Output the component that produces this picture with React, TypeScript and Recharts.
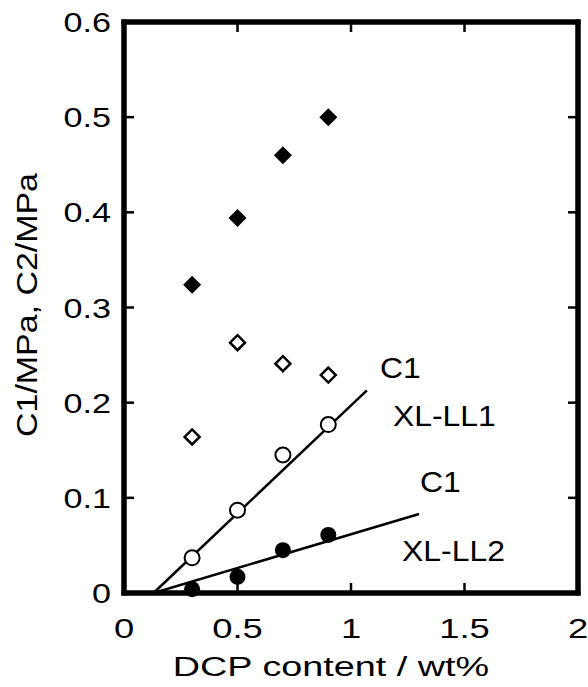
import React from "react";
import { ScatterChart, Scatter, XAxis, YAxis, ReferenceLine, ReferenceArea } from "recharts";

// ---- data ----
const xTicks = [0, 0.5, 1, 1.5, 2];
const yTicks = [0, 0.1, 0.2, 0.3, 0.4, 0.5, 0.6];
const xInnerTicks = [0.5, 1, 1.5];
const yInnerTicks = [0.1, 0.2, 0.3, 0.4, 0.5];
const dcpContent = [0.3, 0.5, 0.7, 0.9];
const filledDiamond = [0.324, 0.394, 0.46, 0.5];
const openDiamond = [0.164, 0.263, 0.241, 0.229];
const openCircle = [0.037, 0.087, 0.145, 0.177];
const filledCircle = [0.004, 0.017, 0.045, 0.061];
const fitLL1 = [
  { x: 0.13, y: 0 },
  { x: 1.07, y: 0.213 },
];
const fitLL2 = [
  { x: 0.13, y: 0 },
  { x: 1.3, y: 0.083 },
];
const annotations = [
  { x: 1.128, y: 0.226, text: "C1" },
  { x: 1.185, y: 0.1755, text: "XL-LL1" },
  { x: 1.304, y: 0.106, text: "C1" },
  { x: 1.225, y: 0.034, text: "XL-LL2" },
];
const xTitle = "DCP content / wt%";
const yTitle = "C1/MPa, C2/MPa";

const X_MIN = 0, X_MAX = 2, Y_MIN = 0, Y_MAX = 0.6;
const frame = [
  { x: X_MIN, y: Y_MIN },
  { x: X_MAX, y: Y_MIN },
  { x: X_MAX, y: Y_MAX },
  { x: X_MIN, y: Y_MAX },
  { x: X_MIN, y: Y_MIN },
];
// inward tick length expressed in axis units (about 10px)
const TICK_DY = 0.0105;
const TICK_DX = 0.044;
// half frame thickness in axis units (about 2.5px)
const HALF_DY = 0.0027;
const HALF_DX = 0.011;

const toPts = (ys: number[]) => dcpContent.map((x, i) => ({ x, y: ys[i] }));

const FONT = "'Liberation Sans', Arial, Helvetica, sans-serif";

const SText = ({ x, y, text, size, sx, anchor, rotate }: any) => (
  <text
    transform={`translate(${x},${y}) rotate(${rotate || 0}) scale(${sx},1)`}
    textAnchor={anchor || "start"}
    fontSize={size}
    fontFamily={FONT}
    fill="#000"
  >
    {text}
  </text>
);

const BottomTick = ({ x, y, payload }: any) => (
  <SText x={x} y={y + 45} text={String(payload.value)} size={28} sx={1.3} anchor="middle" />
);
const LeftTick = ({ x, y, payload }: any) => (
  <SText x={x - 13} y={y + 10} text={String(payload.value)} size={28} sx={1.22} anchor="end" />
);
const XTitle = ({ viewBox }: any) => {
  const vb = viewBox || { x: 124, y: 593, width: 454, height: 94 };
  return <SText x={vb.x + vb.width / 2 - 20} y={vb.y + 83} text={xTitle} size={28} sx={1.35} anchor="middle" />;
};
const YTitle = ({ viewBox }: any) => {
  const vb = viewBox || { x: 0, y: 22, width: 124, height: 571 };
  return <SText x={vb.x + 37} y={vb.y + 283} text={yTitle} size={29} sx={1.17} anchor="middle" rotate={-90} />;
};

const FilledDiamond = ({ cx, cy }: any) => (
  <polygon points={`${cx},${cy - 9} ${cx + 9},${cy} ${cx},${cy + 9} ${cx - 9},${cy}`} fill="#000" />
);
const OpenDiamond = ({ cx, cy }: any) => (
  <polygon
    points={`${cx},${cy - 7.5} ${cx + 7.5},${cy} ${cx},${cy + 7.5} ${cx - 7.5},${cy}`}
    fill="#fff"
    stroke="#000"
    strokeWidth={2.5}
  />
);
const OpenCircle = ({ cx, cy }: any) => (
  <circle cx={cx} cy={cy} r={7.5} fill="#fff" stroke="#000" strokeWidth={2} />
);
const FilledCircle = ({ cx, cy }: any) => <circle cx={cx} cy={cy} r={8} fill="#000" />;
const Label = ({ cx, cy, payload }: any) => (
  <SText x={cx} y={cy} text={payload.text} size={29} sx={1.1} anchor="start" />
);
const NoShape = () => <g />;

const tickSegs: { x: number; y: number }[][] = [
  ...xInnerTicks.map((x) => [
    { x, y: Y_MIN },
    { x, y: Y_MIN + TICK_DY },
  ]),
  ...xInnerTicks.map((x) => [
    { x, y: Y_MAX },
    { x, y: Y_MAX - TICK_DY },
  ]),
  ...yInnerTicks.map((y) => [
    { x: X_MIN, y },
    { x: X_MIN + TICK_DX, y },
  ]),
  ...yInnerTicks.map((y) => [
    { x: X_MAX, y },
    { x: X_MAX - TICK_DX, y },
  ]),
];

const frameStrips = [
  { x1: X_MIN - HALF_DX, x2: X_MAX + HALF_DX, y1: Y_MIN - HALF_DY, y2: Y_MIN + HALF_DY },
  { x1: X_MIN - HALF_DX, x2: X_MAX + HALF_DX, y1: Y_MAX - HALF_DY, y2: Y_MAX + HALF_DY },
  { x1: X_MIN - HALF_DX, x2: X_MIN + HALF_DX, y1: Y_MIN - HALF_DY, y2: Y_MAX + HALF_DY },
  { x1: X_MAX - HALF_DX, x2: X_MAX + HALF_DX, y1: Y_MIN - HALF_DY, y2: Y_MAX + HALF_DY },
];

export default function App() {
  return (
    <div style={{ position: "absolute", left: 0, top: 0, background: "#fff" }}>
      <ScatterChart width={588} height={687} margin={{ top: 22, right: 10, bottom: 0, left: 0 }}>
        <XAxis
          dataKey="x"
          type="number"
          domain={[X_MIN, X_MAX]}
          ticks={xTicks}
          interval={0}
          height={94}
          axisLine={false}
          tickLine={false}
          tickSize={0}
          tickMargin={0}
          tick={<BottomTick />}
          label={<XTitle />}
        />
        <YAxis
          dataKey="y"
          type="number"
          domain={[Y_MIN, Y_MAX]}
          ticks={yTicks}
          interval={0}
          width={124}
          axisLine={false}
          tickLine={false}
          tickSize={0}
          tickMargin={0}
          tick={<LeftTick />}
          label={<YTitle />}
        />
        {frameStrips.map((s, i) => (
          <ReferenceArea
            key={"fa" + i}
            x1={s.x1}
            x2={s.x2}
            y1={s.y1}
            y2={s.y2}
            fill="#000"
            fillOpacity={1}
            stroke="none"
            ifOverflow="visible"
          />
        ))}
        {tickSegs.map((s, i) => (
          <ReferenceLine key={"t" + i} segment={s} stroke="#000" strokeWidth={2.5} ifOverflow="visible" />
        ))}
        <ReferenceLine segment={fitLL1} stroke="#000" strokeWidth={2.5} ifOverflow="visible" />
        <ReferenceLine segment={fitLL2} stroke="#000" strokeWidth={2.5} ifOverflow="visible" />
        <Scatter
          data={frame}
          line={{ stroke: "#000", strokeWidth: 5, strokeLinecap: "square" }}
          shape={<NoShape />}
          isAnimationActive={false}
        />
        <Scatter data={toPts(filledDiamond)} shape={<FilledDiamond />} isAnimationActive={false} />
        <Scatter data={toPts(openDiamond)} shape={<OpenDiamond />} isAnimationActive={false} />
        <Scatter data={toPts(openCircle)} shape={<OpenCircle />} isAnimationActive={false} />
        <Scatter data={toPts(filledCircle)} shape={<FilledCircle />} isAnimationActive={false} />
        <Scatter data={annotations} shape={<Label />} isAnimationActive={false} />
      </ScatterChart>
    </div>
  );
}
